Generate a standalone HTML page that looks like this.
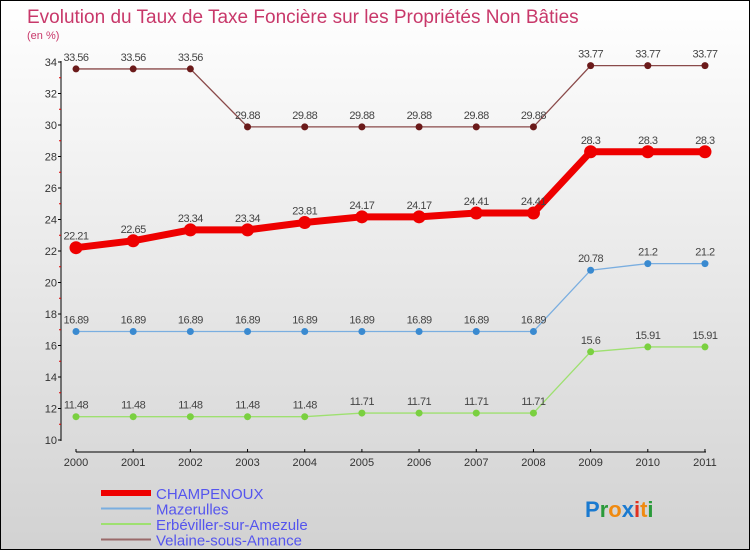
<!DOCTYPE html>
<html><head><meta charset="utf-8"><style>
body{margin:0}
#c{width:748px;height:548px;border:1px solid #000;background:linear-gradient(#ffffff,#d2d2d2);position:relative;font-family:"Liberation Sans",sans-serif;overflow:hidden}
</style></head><body>
<div id="c">
<svg id="s" width="748" height="548"></svg>
</div>
<script>
const years=["2000","2001","2002","2003","2004","2005","2006","2007","2008","2009","2010","2011"];
const yTicks=[10,12,14,16,18,20,22,24,26,28,30,32,34];
const champenoux=[22.21,22.65,23.34,23.34,23.81,24.17,24.17,24.41,24.41,28.3,28.3,28.3];
const mazerulles=[16.89,16.89,16.89,16.89,16.89,16.89,16.89,16.89,16.89,20.78,21.2,21.2];
const erbeviller=[11.48,11.48,11.48,11.48,11.48,11.71,11.71,11.71,11.71,15.6,15.91,15.91];
const velaine=[33.56,33.56,33.56,29.88,29.88,29.88,29.88,29.88,29.88,33.77,33.77,33.77];
const ns="http://www.w3.org/2000/svg",s=document.getElementById('s');
const X=i=>75+i*57.18, Y=v=>439-(v-10)*15.75;
function el(t,a,p){const e=document.createElementNS(ns,t);for(const k in a)e.setAttribute(k,a[k]);(p||s).appendChild(e);return e;}
function txt(x,y,str,a){const e=el('text',Object.assign({x:x,y:y},a));e.textContent=str;return e;}
let t=txt(26,22,"Evolution du Taux de Taxe Foncière sur les Propriétés Non Bâties",{fill:"#c8386a","font-size":19});

t=txt(26,38,"(en %)",{fill:"#c8386a","font-size":11});

let a=el('line',{x1:60,y1:60,x2:60,y2:440,stroke:"#000"});

yTicks.forEach(v=>{el('line',{x1:57,x2:60,y1:Y(v),y2:Y(v),stroke:"#000"});
 if(v<34)el('line',{x1:58,x2:60,y1:Y(v+1),y2:Y(v+1),stroke:"#d00"});
 const l=txt(56,Y(v)+4,String(v),{fill:"#333","font-size":11,"text-anchor":"end"});
 });
a=el('line',{x1:75,y1:451,x2:705,y2:451,stroke:"#000"});

years.forEach((y,i)=>{el('line',{x1:X(i),x2:X(i),y1:448,y2:451,stroke:"#000"});
 const l=txt(X(i),465,y,{fill:"#333","font-size":11,"text-anchor":"middle"});
 });
function series(d,col,w,r,dot,name){
 const g=el('g',{});
 el('polyline',{points:d.map((v,i)=>X(i)+","+Y(v)).join(" "),fill:"none",stroke:col,"stroke-width":w},g);
 d.forEach((v,i)=>{const c=el('circle',{cx:X(i),cy:Y(v),r:r,fill:dot},g);
  
  txt(X(i),Y(v)-8,String(v),{fill:"#444","font-size":11,"text-anchor":"middle","letter-spacing":"-0.5"},g);});
}
series(velaine,"#8a4a4a",1.3,3.5,"#6b1a1a","velaine-series");
series(mazerulles,"#7aaee0",1.3,3.5,"#3a8ad0","mazerulles-series");
series(erbeviller,"#9ee070",1.3,3.5,"#7ad040","erbeviller-series");
series(champenoux,"#ee0000",7,6.5,"#ee0000","champenoux-series");
const leg=[["CHAMPENOUX","#ee0000",6],["Mazerulles","#7aaee0",2],["Erbéviller-sur-Amezule","#9ee070",2],["Velaine-sous-Amance","#9a6a6a",2]];
leg.forEach((l,i)=>{const y=492+i*15.5;const g=el('g',{});
 el('line',{x1:100,x2:150,y1:y,y2:y,stroke:l[1],"stroke-width":l[2]},g);
 txt(155,y+6,l[0],{fill:"#5555ee","font-size":15},g);});
const lg=el('text',{x:584,y:516,"font-size":22,"font-weight":"bold"});

[["P","#1a7ad0"],["r","#2a9a3a"],["o","#f08a10"],["x","#1a7ad0"],["i","#e03020"],["t","#f08a10"],["i","#2a9a3a"]].forEach(c=>{const sp=el('tspan',{fill:c[1]},lg);sp.textContent=c[0];});
</script>
</body></html>
